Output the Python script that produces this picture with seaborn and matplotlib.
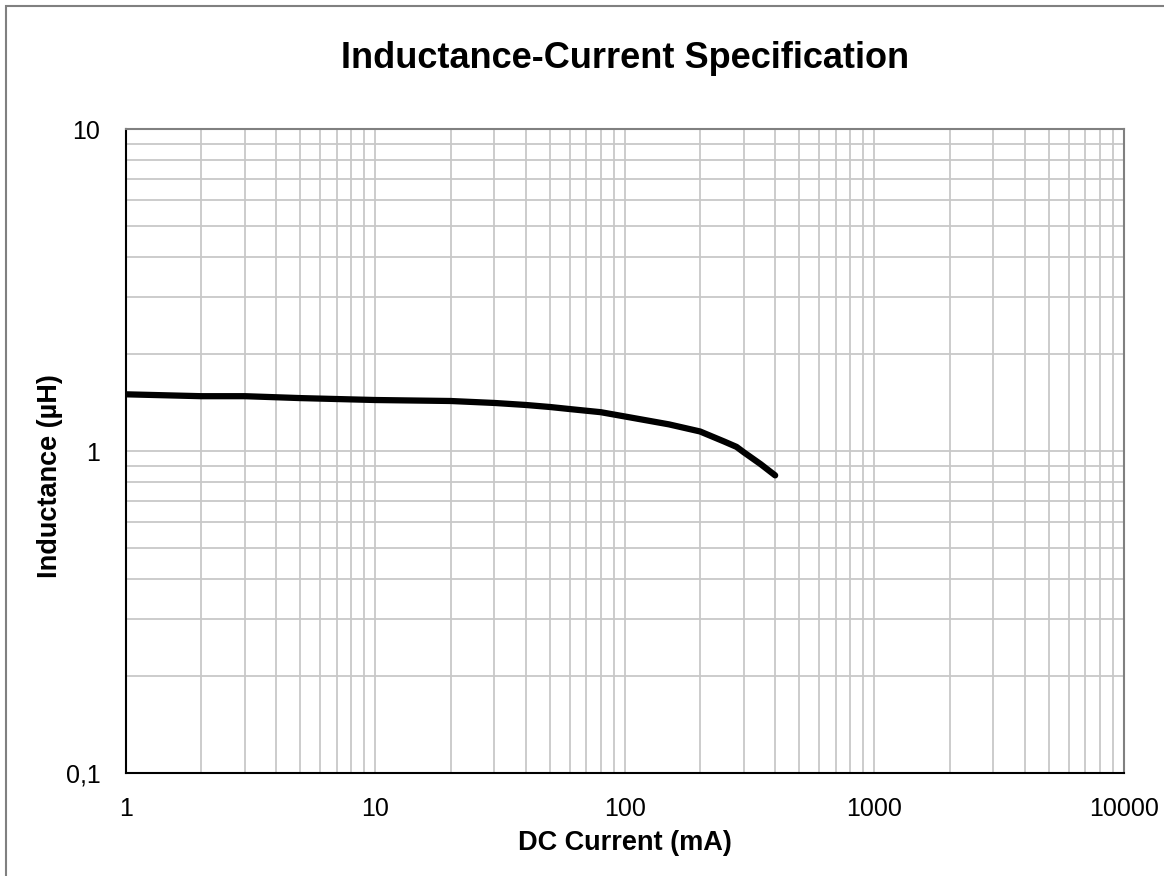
import matplotlib
matplotlib.use("Agg")
import matplotlib.pyplot as plt
import matplotlib.ticker as mticker
from matplotlib.patches import Rectangle
import seaborn as sns
import pandas as pd

# DC current (mA) and inductance (uH)
current_ma = [1, 2, 3, 5, 10, 20, 30, 40, 50, 60, 80, 100, 150, 200, 250, 280, 300, 350, 400]
inductance_uh = [1.50, 1.48, 1.48, 1.46, 1.44, 1.43, 1.41, 1.39, 1.37, 1.35, 1.32, 1.28,
                 1.21, 1.15, 1.07, 1.03, 0.99, 0.91, 0.84]

x_ticks = [1, 10, 100, 1000, 10000]
x_tick_labels = ["1", "10", "100", "1000", "10000"]
y_ticks = [0.1, 1, 10]
y_tick_labels = ["0,1", "1", "10"]

sns.set_style("white")
plt.rcParams["font.family"] = ["Liberation Sans", "DejaVu Sans"]
plt.rcParams["text.color"] = "black"
plt.rcParams["axes.labelcolor"] = "black"
plt.rcParams["xtick.color"] = "black"
plt.rcParams["ytick.color"] = "black"

df = pd.DataFrame({"current": current_ma, "inductance": inductance_uh})

fig = plt.figure(figsize=(11.64, 8.76), dpi=100)
ax = fig.add_axes([0.1082, 0.1176, 0.8574, 0.7351])

sns.lineplot(data=df, x="current", y="inductance", ax=ax, color="black",
             linewidth=4.5, solid_capstyle="round", solid_joinstyle="round", zorder=3)

ax.set_xscale("log")
ax.set_yscale("log")
ax.set_xlim(1, 10000)
ax.set_ylim(0.1, 10)

ax.xaxis.set_major_locator(mticker.FixedLocator(x_ticks))
ax.xaxis.set_major_formatter(mticker.FixedFormatter(x_tick_labels))
ax.yaxis.set_major_locator(mticker.FixedLocator(y_ticks))
ax.yaxis.set_major_formatter(mticker.FixedFormatter(y_tick_labels))
ax.xaxis.set_minor_locator(mticker.LogLocator(base=10, subs=range(2, 10)))
ax.yaxis.set_minor_locator(mticker.LogLocator(base=10, subs=range(2, 10)))
ax.xaxis.set_minor_formatter(mticker.NullFormatter())
ax.yaxis.set_minor_formatter(mticker.NullFormatter())

ax.grid(True, which="both", color="#c8c8c8", linewidth=1.3)
ax.set_axisbelow(True)

ax.tick_params(axis="y", which="major", direction="out", length=6, width=1,
               color="#808080", labelsize=18, pad=12.5)
ax.tick_params(axis="y", which="minor", length=0)
ax.tick_params(axis="x", which="both", length=0, labelsize=18, pad=17)

for side in ["left", "bottom"]:
    ax.spines[side].set_color("black")
    ax.spines[side].set_linewidth(1.5)
for side in ["top", "right"]:
    ax.spines[side].set_color("#808080")
    ax.spines[side].set_linewidth(1.5)

ax.set_xlabel("DC Current (mA)", fontsize=19.5, fontweight="bold", labelpad=7)
ax.set_ylabel("Inductance (µH)", fontsize=19.5, fontweight="bold")
ax.yaxis.set_label_coords(-0.063, 0.461)
ax.set_title("Inductance-Current Specification", fontsize=26, fontweight="bold", pad=44)

# thin grey chart-area frame
fig.patches.append(Rectangle((6 / 1164, -0.01), 1.02, 1 - 6 / 876 + 0.01,
                             transform=fig.transFigure, fill=False,
                             edgecolor="#808080", linewidth=1.5))

fig.savefig("out.png", dpi=100)
plt.close(fig)
